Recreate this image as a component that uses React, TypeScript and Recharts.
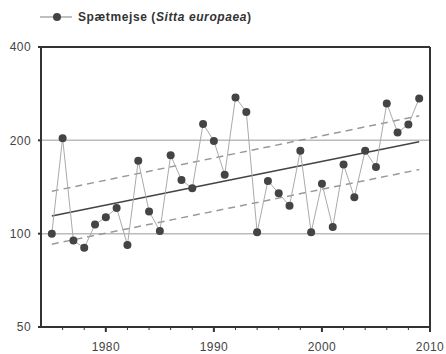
import React from 'react';
import {
  LineChart, Line, XAxis, YAxis, CartesianGrid, ReferenceLine,
} from 'recharts';

const years: number[] = [
  1975, 1976, 1977, 1978, 1979, 1980, 1981, 1982, 1983, 1984, 1985, 1986,
  1987, 1988, 1989, 1990, 1991, 1992, 1993, 1994, 1995, 1996, 1997, 1998,
  1999, 2000, 2001, 2002, 2003, 2004, 2005, 2006, 2007, 2008, 2009,
];
const index: number[] = [
  100, 203, 95, 90, 107, 113, 121, 92, 172, 118, 102, 179,
  149, 140, 226, 199, 155, 275, 247, 101, 148, 135, 123, 185,
  101, 145, 105, 167, 131, 185, 164, 263, 212, 225, 273,
];

// trend line and its confidence limits, start and end only
const trendYears: number[] = [1975, 2009];
const trendMid: number[] = [114, 198];
const trendUpper: number[] = [137, 240];
const trendLower: number[] = [92.5, 161];

const xTicks: number[] = [1976, 1978, 1980, 1982, 1984, 1986, 1988, 1990, 1992, 1994, 1996, 1998, 2000, 2002, 2004, 2006, 2008, 2010];
const yTicks: number[] = [50, 100, 200, 400];

const data = years.map((year, i) => ({ year, value: index[i] }));
const mid = trendYears.map((year, i) => ({ year, value: trendMid[i] }));
const upper = trendYears.map((year, i) => ({ year, value: trendUpper[i] }));
const lower = trendYears.map((year, i) => ({ year, value: trendLower[i] }));

const font = '"Liberation Sans", Arial, sans-serif';

const YearTick = (props: any) => {
  const { x, y, payload } = props;
  const major = payload.value % 10 === 0;
  return (
    <g>
      <line x1={x} x2={x} y1={y} y2={y + (major ? 5 : 3)} stroke="#333" strokeWidth={major ? 2 : 1} />
      {major && (
        <text x={x} y={y + 15} dy="0.71em" textAnchor="middle" fontSize={12} fill="#444" fontFamily={font} letterSpacing={0.4}>
          {payload.value}
        </text>
      )}
    </g>
  );
};

export default function App() {
  return (
    <div style={{ position: 'absolute', left: 0, top: 0, width: 446, height: 354, background: '#fff' }}>
      <div style={{ position: 'absolute', left: 0, top: 0, height: 34, display: 'flex', alignItems: 'center' }}>
        <svg width={78} height={34} style={{ display: 'block' }}>
          <line x1={40} x2={72} y1={17} y2={17} stroke="#aaa" strokeWidth={1.5} />
          <circle cx={57} cy={17} r={4} fill="#444" />
        </svg>
        <span style={{ fontFamily: font, fontSize: 12, fontWeight: 'bold', color: '#333', letterSpacing: 0.6 }}>
          Spætmejse (<i>Sitta europaea</i>)
        </span>
      </div>
      <LineChart width={446} height={354} data={data} margin={{ top: 47, right: 16, bottom: 0, left: 0 }}>
        <CartesianGrid vertical={false} stroke="#bbb" strokeWidth={1.5} />
        <XAxis
          dataKey="year"
          type="number"
          domain={[1974, 2010]}
          ticks={xTicks}
          interval={0}
          height={27}
          stroke="#333"
          strokeWidth={2}
          tickLine={false}
          tickSize={0}
          tickMargin={0}
          tick={<YearTick />}
        />
        <YAxis
          scale="log"
          type="number"
          domain={[50, 400]}
          ticks={yTicks}
          interval={0}
          allowDataOverflow
          width={41}
          stroke="#333"
          strokeWidth={2}
          tickSize={3}
          tickMargin={7}
          tick={{ fontSize: 12, fill: '#444', fontFamily: font, letterSpacing: 0.4 }}
        />
        <ReferenceLine y={400} stroke="#333" strokeWidth={2} />
        <ReferenceLine x={2010} stroke="#333" strokeWidth={2} />
        <Line data={upper} dataKey="value" stroke="#999" strokeWidth={1.5} strokeDasharray="7 5" dot={false} isAnimationActive={false} />
        <Line data={lower} dataKey="value" stroke="#999" strokeWidth={1.5} strokeDasharray="7 5" dot={false} isAnimationActive={false} />
        <Line data={mid} dataKey="value" stroke="#444" strokeWidth={1.6} dot={false} isAnimationActive={false} />
        <Line
          dataKey="value"
          stroke="#aaa"
          strokeWidth={1}
          dot={{ r: 4, fill: '#444', stroke: 'none' }}
          isAnimationActive={false}
        />
      </LineChart>
    </div>
  );
}
